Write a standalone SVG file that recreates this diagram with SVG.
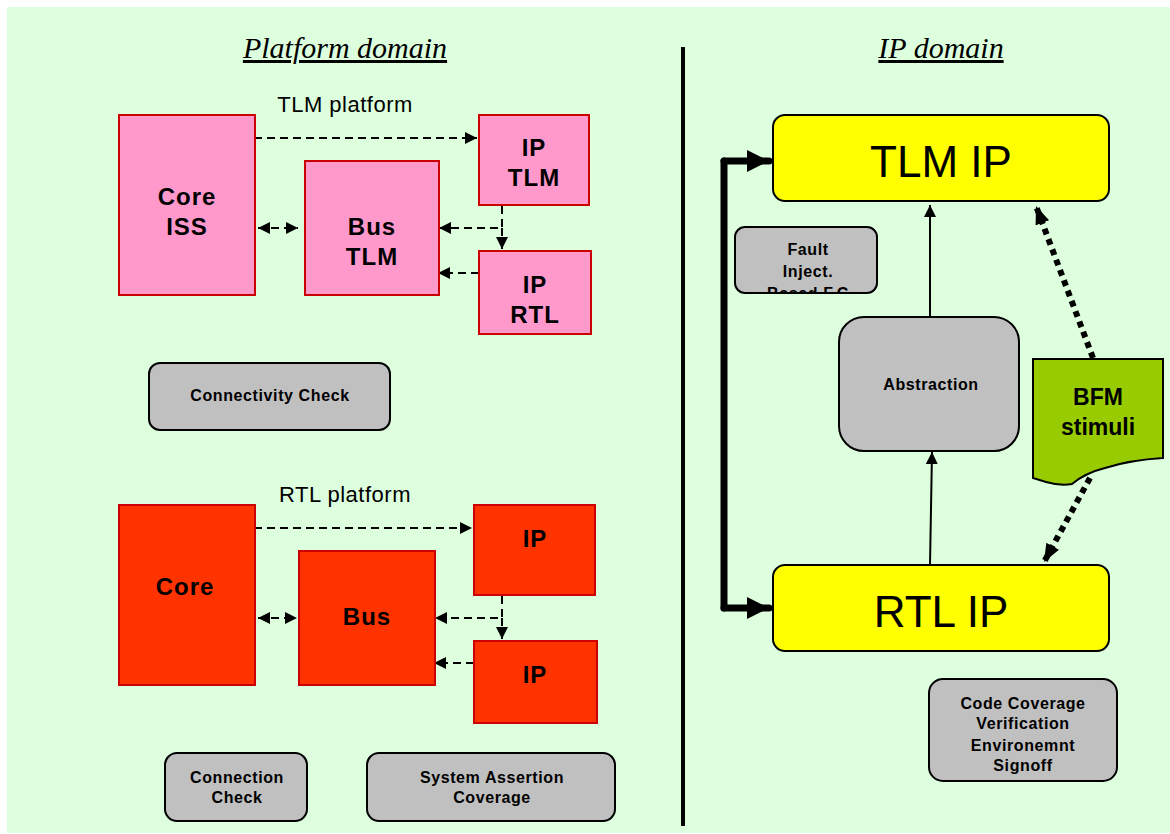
<svg xmlns="http://www.w3.org/2000/svg" width="1170" height="834" viewBox="0 0 1170 834">
<style>
.bg{fill:#DDFFDD}
.pink{fill:#FF99CC;stroke:#CC0000;stroke-width:2}
.red{fill:#FF3300;stroke:#CC0000;stroke-width:2}
.gray{fill:#C0C0C0;stroke:#000;stroke-width:2}
.yel{fill:#FFFF00;stroke:#000;stroke-width:2}
.blk{font-family:"Liberation Sans",Arial,sans-serif;font-weight:bold;fill:#000;text-anchor:middle}
.big{font-size:24px;letter-spacing:1px}
.sm{font-size:16px;letter-spacing:0.6px}
.plain{font-family:"Liberation Sans",Arial,sans-serif;fill:#000;text-anchor:middle}
.title{font-family:"Liberation Serif","Times New Roman",serif;font-style:italic;font-size:30px;fill:#000;text-anchor:middle;text-decoration:underline}
.dash{fill:none;stroke:#000;stroke-width:2;stroke-dasharray:8,5}
.dot{fill:none;stroke:#000;stroke-width:6;stroke-dasharray:6,5}
</style>
<defs>
<marker id="ahs" viewBox="0 0 10 10" refX="10" refY="5" markerWidth="12" markerHeight="12" orient="auto-start-reverse" markerUnits="userSpaceOnUse">
<path d="M0,0 L10,5 L0,10 z" fill="#000"/>
</marker>
<marker id="ahb" viewBox="0 0 10 10" refX="10" refY="5" markerWidth="22" markerHeight="22" orient="auto" markerUnits="userSpaceOnUse">
<path d="M0,0 L10,5 L0,10 z" fill="#000"/>
</marker>
<marker id="ahd" viewBox="0 0 10 10" refX="10" refY="5" markerWidth="18" markerHeight="18" orient="auto" markerUnits="userSpaceOnUse">
<path d="M0,1 L10,5 L0,9 z" fill="#000"/>
</marker>
<clipPath id="fclip"><rect x="735" y="227" width="142" height="66" rx="10"/></clipPath>
</defs>
<rect class="bg" x="7" y="7" width="1163" height="826"/>
<text class="title" x="345" y="58">Platform domain</text>
<text class="title" x="941" y="58">IP domain</text>
<line x1="683" y1="47" x2="683" y2="826" stroke="#000" stroke-width="4"/>

<text class="plain" x="345" y="112" font-size="22" letter-spacing="0.5">TLM platform</text>
<text class="plain" x="345" y="502" font-size="22" letter-spacing="0.5">RTL platform</text>

<g id="connectors">
<line class="dash" x1="254" y1="138" x2="477" y2="138" marker-end="url(#ahs)"/>
<line class="dash" x1="258" y1="228" x2="298" y2="228" marker-start="url(#ahs)" marker-end="url(#ahs)"/>
<polyline class="dash" points="502,206 502,228 439,228" marker-end="url(#ahs)"/>
<line class="dash" x1="502" y1="228" x2="502" y2="249" marker-end="url(#ahs)"/>
<line class="dash" x1="479" y1="273" x2="438" y2="273" marker-end="url(#ahs)"/>

<line class="dash" x1="254" y1="528" x2="472" y2="528" marker-end="url(#ahs)"/>
<line class="dash" x1="258" y1="618" x2="297" y2="618" marker-start="url(#ahs)" marker-end="url(#ahs)"/>
<polyline class="dash" points="502,596 502,618 435,618" marker-end="url(#ahs)"/>
<line class="dash" x1="502" y1="618" x2="502" y2="639" marker-end="url(#ahs)"/>
<line class="dash" x1="474" y1="663" x2="434" y2="663" marker-end="url(#ahs)"/>

<line x1="930" y1="320" x2="930" y2="205" stroke="#000" stroke-width="2" marker-end="url(#ahs)"/>
<line x1="930" y1="565" x2="932" y2="452" stroke="#000" stroke-width="2" marker-end="url(#ahs)"/>
<line class="dot" x1="1093" y1="358" x2="1036" y2="206" marker-end="url(#ahd)"/>
<line class="dot" x1="1090" y1="478" x2="1044" y2="562" marker-end="url(#ahd)"/>
<line x1="724" y1="161" x2="724" y2="608" stroke="#000" stroke-width="7" stroke-linecap="round"/>
<line x1="724" y1="161" x2="769" y2="161" stroke="#000" stroke-width="7" stroke-linecap="round" marker-end="url(#ahb)"/>
<line x1="724" y1="608" x2="769" y2="608" stroke="#000" stroke-width="7" stroke-linecap="round" marker-end="url(#ahb)"/>
</g>

<g id="core-iss"><rect class="pink" x="119" y="115" width="136" height="180"/>
<text class="blk big" x="187" y="205">Core</text><text class="blk big" x="187" y="235">ISS</text></g>
<g id="bus-tlm"><rect class="pink" x="305" y="161" width="134" height="134"/>
<text class="blk big" x="372" y="235">Bus</text><text class="blk big" x="372" y="265">TLM</text></g>
<g id="ip-tlm"><rect class="pink" x="479" y="115" width="110" height="90"/>
<text class="blk big" x="534" y="156">IP</text><text class="blk big" x="534" y="186">TLM</text></g>
<g id="ip-rtl"><rect class="pink" x="479" y="251" width="112" height="83"/>
<text class="blk big" x="535" y="293">IP</text><text class="blk big" x="535" y="323">RTL</text></g>
<g id="connectivity-check"><rect class="gray" x="149" y="363" width="241" height="67" rx="11"/>
<text class="blk sm" x="270" y="401">Connectivity Check</text></g>

<g id="core"><rect class="red" x="119" y="505" width="136" height="180"/>
<text class="blk big" x="185" y="595">Core</text></g>
<g id="bus"><rect class="red" x="299" y="551" width="136" height="134"/>
<text class="blk big" x="367" y="625">Bus</text></g>
<g id="ip-1"><rect class="red" x="474" y="505" width="121" height="90"/>
<text class="blk big" x="535" y="547">IP</text></g>
<g id="ip-2"><rect class="red" x="474" y="641" width="123" height="82"/>
<text class="blk big" x="535" y="683">IP</text></g>
<g id="connection-check"><rect class="gray" x="165" y="753" width="142" height="68" rx="12"/>
<text class="blk sm" x="237" y="783">Connection</text><text class="blk sm" x="237" y="803">Check</text></g>
<g id="system-assertion"><rect class="gray" x="367" y="753" width="248" height="68" rx="12"/>
<text class="blk sm" x="492" y="783">System Assertion</text><text class="blk sm" x="492" y="803">Coverage</text></g>

<g id="tlm-ip"><rect class="yel" x="773" y="115" width="336" height="86" rx="12"/>
<text class="plain" x="941" y="177" font-size="44">TLM IP</text></g>
<g id="fault-inject"><rect class="gray" x="735" y="227" width="142" height="66" rx="10"/>
<g clip-path="url(#fclip)"><text class="blk sm" x="808" y="255">Fault</text><text class="blk sm" x="808" y="277">Inject.</text><text class="blk sm" x="808" y="299">Based F.C</text></g></g>
<g id="abstraction"><rect class="gray" x="839" y="317" width="180" height="134" rx="25"/>
<text class="blk sm" x="931" y="390">Abstraction</text></g>
<g id="bfm-stimuli"><path d="M1033,359 L1163,359 L1163,458 Q1130,460 1105,468 Q1085,473 1072,484 Q1060,486 1046,482 L1033,478 Z" fill="#99CC00" stroke="#000" stroke-width="2"/>
<text class="blk" x="1098" y="405" font-size="23">BFM</text><text class="blk" x="1098" y="435" font-size="23">stimuli</text></g>
<g id="rtl-ip"><rect class="yel" x="773" y="565" width="336" height="86" rx="12"/>
<text class="plain" x="941" y="627" font-size="44">RTL IP</text></g>
<g id="code-coverage"><rect class="gray" x="929" y="679" width="188" height="102" rx="14"/>
<text class="blk sm" x="1023" y="709">Code Coverage</text><text class="blk sm" x="1023" y="729">Verification</text><text class="blk sm" x="1023" y="751">Environemnt</text><text class="blk sm" x="1023" y="771">Signoff</text></g>
</svg>
